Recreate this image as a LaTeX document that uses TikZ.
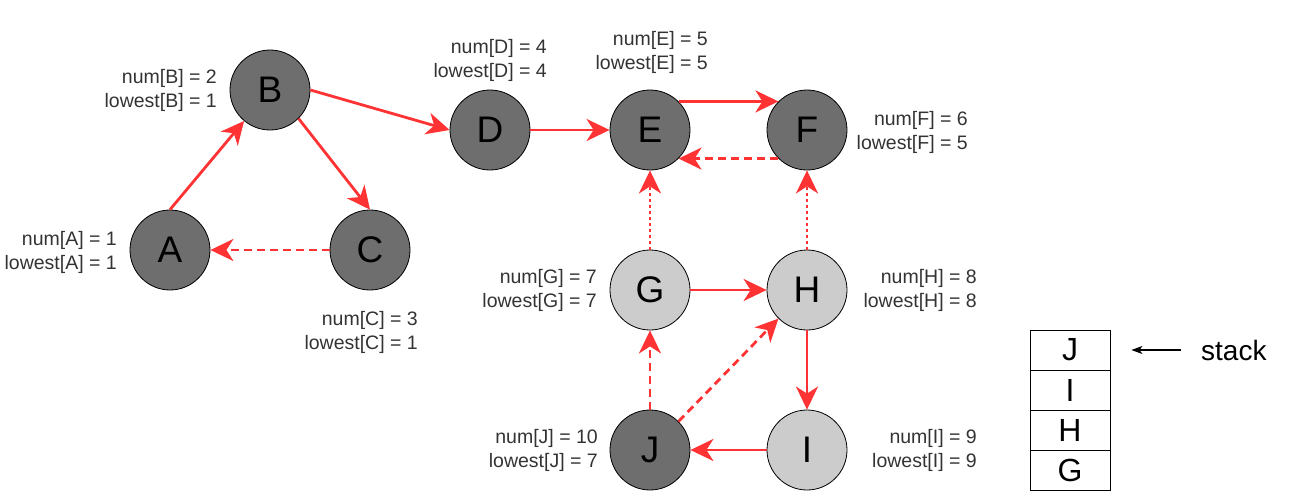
\documentclass[tikz,border=0pt]{standalone}
\usepackage{fontspec}
\setmainfont{Liberation Sans}
\usetikzlibrary{arrows.meta}
\definecolor{darknode}{HTML}{6E6E6E}
\definecolor{lightnode}{HTML}{CCCCCC}
\definecolor{edgered}{HTML}{FF3333}
\definecolor{labelgray}{HTML}{333333}
\begin{document}
\begin{tikzpicture}[x=1pt,y=-1pt,
  vtx/.style={circle,draw=black,line width=0.8pt,minimum size=80pt,inner sep=0pt,
    font=\fontsize{37}{37}\selectfont},
  dark/.style={vtx,fill=darknode},
  light/.style={vtx,fill=lightnode},
  info/.style={anchor=east,align=right,inner sep=0pt,text=labelgray,
    font=\fontsize{19.5}{24}\selectfont},
  edge/.style={draw=edgered,line width=2.8pt,
    -{Stealth[length=23pt,width=22pt,inset=7pt,fill=edgered]}},
  dashededge/.style={edge,dash pattern=on 8pt off 5pt},
  dottededge/.style={edge,dash pattern=on 3pt off 3pt},
  cell/.style={draw=black,line width=0.8pt,minimum width=80pt,minimum height=40pt,
    inner sep=0pt,font=\fontsize{32}{32}\selectfont}
]
\useasboundingbox (0,0) rectangle (1291,501);

% vertices
\node[dark]  (A) at (170,250) {A};
\node[dark]  (B) at (270,90)  {B};
\node[dark]  (C) at (370,250) {C};
\node[dark]  (D) at (490,130) {D};
\node[dark]  (E) at (650,130) {E};
\node[dark]  (F) at (807,130) {F};
\node[light] (G) at (650,290) {G};
\node[light] (H) at (807,290) {H};
\node[dark]  (J) at (650,450) {J};
\node[light] (I) at (807,450) {I};

% labels
\node[info] (lA) at (117,252) {num[A] = 1\\lowest[A] = 1};
\node[info] (lB) at (217,90)  {num[B] = 2\\lowest[B] = 1};
\node[info] (lC) at (418,332) {num[C] = 3\\lowest[C] = 1};
\node[info] (lD) at (547,60)  {num[D] = 4\\lowest[D] = 4};
\node[info] (lE) at (708,52)  {num[E] = 5\\lowest[E] = 5};
\node[info] (lF) at (968,132) {num[F] = 6\\lowest[F] = 5};
\node[info] (lG) at (597,290) {num[G] = 7\\lowest[G] = 7};
\node[info] (lH) at (977,290) {num[H] = 8\\lowest[H] = 8};
\node[info] (lJ) at (598,450) {num[J] = 10\\lowest[J] = 7};
\node[info] (lI) at (977,450) {num[I] = 9\\lowest[I] = 9};

% edges
\draw[edge] (A.north) -- (B);
\draw[edge] (B.-45) -- (C.north);
\draw[dashededge] (C.west) -- (A.east);
\draw[edge] (B.east) -- (D.west);
\draw[edge] (D.east) -- (E.west);
\draw[edge] (E.45) -- (F.135);
\draw[dashededge] (F.225) -- (E.-45);
\draw[dottededge] (G.north) -- (E.south);
\draw[dottededge] (H.north) -- (F.south);
\draw[edge] (G.east) -- (H.west);
\draw[edge] (H.south) -- (I.north);
\draw[edge] (I.west) -- (J.east);
\draw[dashededge] (J.north) -- (G.south);
\draw[dashededge] (J.45) -- (H.225);

% stack
\node[cell] (s1) at (1070,350) {J};
\node[cell] (s2) at (1070,390) {I};
\node[cell] (s3) at (1070,430) {H};
\node[cell] (s4) at (1070,470) {G};
\node[anchor=west,inner xsep=20pt,inner ysep=0pt,font=\fontsize{28}{28}\selectfont]
  (stacklbl) at (1181,350) {stack};
\draw[line width=1.3pt,-{Stealth[length=11pt,width=8pt,inset=3pt]},shorten >=21pt]
  (stacklbl.west) -- (s1.east);
\end{tikzpicture}
\end{document}
